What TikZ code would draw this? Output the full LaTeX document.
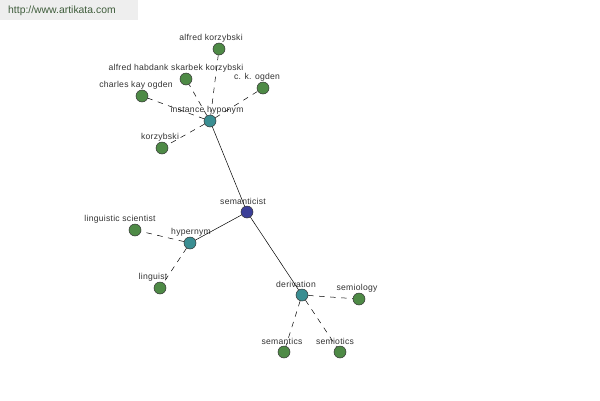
\documentclass[tikz,border=0pt]{standalone}
\usepackage{fontspec}
\setmainfont{Liberation Sans}
\definecolor{leafg}{HTML}{4E8A46}
\definecolor{hubt}{HTML}{3A8E92}
\definecolor{rootb}{HTML}{3C3F98}
\definecolor{hdrbg}{HTML}{EEEEEE}
\definecolor{hdrtx}{HTML}{3E5C3A}
\definecolor{lbl}{HTML}{333333}
\begin{document}
\begin{tikzpicture}[x=1pt,y=-1pt,
  dot/.style={circle,draw=black!80,line width=0.5pt,minimum size=12pt,inner sep=0pt},
  leaf/.style={dot,fill=leafg},
  hub/.style={dot,fill=hubt},
  root/.style={dot,fill=rootb},
  every label/.style={font=\fontsize{8.6}{9}\selectfont\addfontfeature{LetterSpace=3},text=lbl,inner sep=0pt,label distance=0.5pt},
  solidlink/.style={draw=black,line width=0.5pt},
  dashlink/.style={draw=black,line width=0.5pt,dash pattern=on 5.5pt off 5.5pt}]
\useasboundingbox (0,0) rectangle (600,400);
\fill[white] (0,0) rectangle (600,400);
\fill[hdrbg] (0,0) rectangle (138,20);
\node[anchor=west,inner sep=0pt,text=hdrtx,font=\fontsize{10.4}{12}\selectfont] (hdr) at (8,11) {http://www.artikata.com};

\node[root,label={[xshift=-4pt]above:semanticist}] (sem) at (247,212) {};
\node[hub,label={[xshift=-3pt]above:instance hyponym}] (ih) at (210,121) {};
\node[hub,label={[xshift=1pt]above:hypernym}] (hyp) at (190,243) {};
\node[hub,label={[xshift=-6pt]above:derivation}] (der) at (302,295) {};

\node[leaf,label={[xshift=-8pt]above:alfred korzybski}] (ak) at (219,49) {};
\node[leaf,label={[xshift=-10pt]above:alfred habdank skarbek korzybski}] (ahsk) at (186,79) {};
\node[leaf,label={[xshift=-6pt]above:charles kay ogden}] (cko) at (142,96) {};
\node[leaf,label={[xshift=-6pt]above:c. k. ogden}] (ck) at (263,88) {};
\node[leaf,label={[xshift=-2pt]above:korzybski}] (kor) at (162,148) {};
\node[leaf,label={[xshift=-15pt]above:linguistic scientist}] (ls) at (135,230) {};
\node[leaf,label={[xshift=-7pt]above:linguist}] (lin) at (160,288) {};
\node[leaf,label={[xshift=-2pt]above:semiology}] (smg) at (359,299) {};
\node[leaf,label={[xshift=-2pt]above:semantics}] (sms) at (284,352) {};
\node[leaf,label={[xshift=-5pt]above:semiotics}] (smt) at (340,352) {};

\draw[solidlink] (sem) -- (ih);
\draw[solidlink] (sem) -- (hyp);
\draw[solidlink] (sem) -- (der);
\draw[dashlink] (ih) -- (ak);
\draw[dashlink] (ih) -- (ahsk);
\draw[dashlink] (ih) -- (cko);
\draw[dashlink] (ih) -- (ck);
\draw[dashlink] (ih) -- (kor);
\draw[dashlink] (hyp) -- (ls);
\draw[dashlink] (hyp) -- (lin);
\draw[dashlink] (der) -- (smg);
\draw[dashlink] (der) -- (sms);
\draw[dashlink] (der) -- (smt);
\end{tikzpicture}
\end{document}
